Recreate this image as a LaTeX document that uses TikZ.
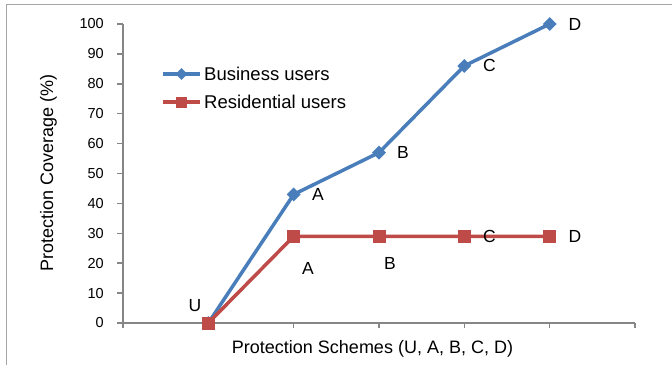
\documentclass[tikz,border=0pt]{standalone}
\usepackage{fontspec}
\setmainfont{Liberation Sans}
\usetikzlibrary{shapes.geometric}
\definecolor{bizblue}{HTML}{4A7EBB}
\definecolor{resred}{HTML}{BE4B48}
\definecolor{axgray}{HTML}{868686}
\definecolor{framegray}{HTML}{A6A6A6}
\begin{document}
\begin{tikzpicture}[x=1pt,y=-1pt,
  axisline/.style={axgray, line width=1.5pt},
  ticklab/.style={font=\fontsize{14.5}{17}\selectfont, inner sep=0pt, anchor=east},
  ptlab/.style={font=\fontsize{17.5}{20}\selectfont, inner sep=0pt},
  titlelab/.style={font=\fontsize{18}{21}\selectfont, inner sep=0pt, anchor=base},
  leglab/.style={font=\fontsize{18.5}{22}\selectfont, inner sep=0pt, anchor=base west},
  bizline/.style={bizblue, line width=3.5pt, line join=round},
  resline/.style={resred, line width=3.5pt, line join=round},
  bizmark/.style={diamond, fill=bizblue, inner sep=0pt, minimum width=14pt, minimum height=14pt},
  resmark/.style={rectangle, fill=resred, inner sep=0pt, minimum width=13pt, minimum height=13pt},
  bizleg/.style={diamond, fill=bizblue, inner sep=0pt, minimum width=12pt, minimum height=12pt},
  resleg/.style={rectangle, fill=resred, inner sep=0pt, minimum width=11pt, minimum height=11pt}]
\useasboundingbox (0,0) rectangle (672,365);
% outer frame
\draw[framegray, line width=1pt] (6,365) -- (6,4) -- (672,4);
% axes
\coordinate (ytop) at (123,24);
\coordinate (orig) at (123,323);
\coordinate (xend) at (635,323);
\draw[axisline] (ytop) -- (orig) -- (xend);
\foreach \v [evaluate=\v as \yy using 323-29.9*\v, evaluate=\v as \lab using int(\v*10)] in {0,...,10} {
  \draw[axisline] (117,\yy) -- (123,\yy);
  \node[ticklab] (t\v) at (104,\yy) {\lab};
}
\foreach \k [evaluate=\k as \xx using 123+85.33*\k] in {0,...,6} {
  \draw[axisline] (\xx,323) -- (\xx,328);
}
% axis titles
\node[titlelab, rotate=90] (ytitle) at (53,173) {Protection Coverage (\%)};
\node[titlelab] (xtitle) at (372.5,353) {Protection Schemes (U, A, B, C, D)};
% business series
\coordinate (bU) at (208.3,323);
\coordinate (bA) at (293.7,194.4);
\coordinate (bB) at (379,152.6);
\coordinate (bC) at (464.3,65.9);
\coordinate (bD) at (549.7,24);
\draw[bizline] (bU) -- (bA) -- (bB) -- (bC) -- (bD);
\foreach \p in {bU,bA,bB,bC,bD} { \node[bizmark] (m\p) at (\p) {}; }
% residential series
\coordinate (rU) at (208.3,323);
\coordinate (rA) at (293.7,236.3);
\coordinate (rB) at (379,236.3);
\coordinate (rC) at (464.3,236.3);
\coordinate (rD) at (549.7,236.3);
\draw[resline] (rU) -- (rA) -- (rB) -- (rC) -- (rD);
\foreach \p in {rU,rA,rB,rC,rD} { \node[resmark] (m\p) at (\p) {}; }
% point labels
\node[ptlab] (lU) at (195,306) {U};
\node[ptlab] (lbA) at (318,194.5) {A};
\node[ptlab] (lbB) at (403,152.5) {B};
\node[ptlab] (lbC) at (489.5,65) {C};
\node[ptlab] (lbD) at (575,24) {D};
\node[ptlab] (lrA) at (308,268.5) {A};
\node[ptlab] (lrB) at (390,263.5) {B};
\node[ptlab] (lrC) at (489.5,236) {C};
\node[ptlab] (lrD) at (575,236) {D};
% legend
\coordinate (lg1a) at (163,74);
\coordinate (lg1b) at (200,74);
\draw[bizline] (lg1a) -- (lg1b);
\node[bizleg] (lg1m) at (181.5,74) {};
\node[leglab] (lg1t) at (204,80.5) {Business users};
\coordinate (lg2a) at (163,102);
\coordinate (lg2b) at (200,102);
\draw[resline] (lg2a) -- (lg2b);
\node[resleg] (lg2m) at (181.5,102) {};
\node[leglab] (lg2t) at (204,108.5) {Residential users};
\end{tikzpicture}
\end{document}
